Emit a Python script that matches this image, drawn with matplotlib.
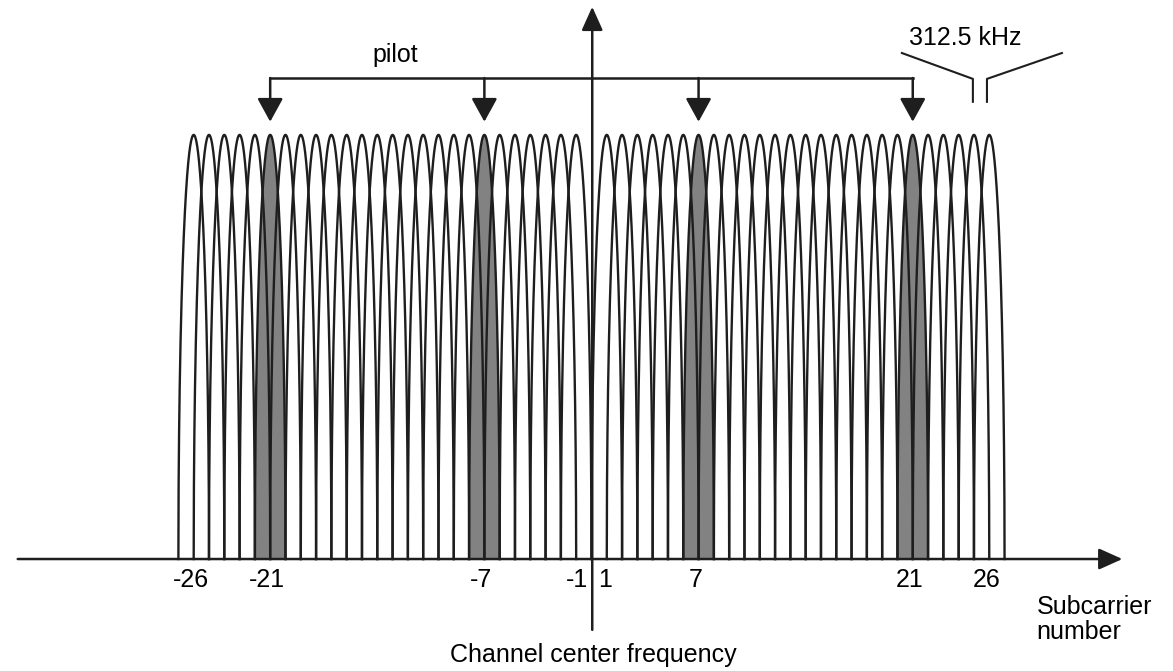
import numpy as np
import matplotlib
matplotlib.use("Agg")
import matplotlib.pyplot as plt

plt.rcParams['font.family'] = ['Liberation Sans', 'DejaVu Sans']

# subcarrier numbers (DC subcarrier 0 is not used)
subcarriers = list(range(-26, 0)) + list(range(1, 27))
pilots = [-21, -7, 7, 21]
tick_labels = [-26, -21, -7, -1, 1, 7, 21, 26]

fig = plt.figure(figsize=(11.73, 6.71), dpi=100)
ax = fig.add_axes([0, 0, 1, 1])
ax.set_xlim(-38.66, 38.01)
ax.set_ylim(-0.264, 1.318)
ax.axis('off')

u = np.linspace(-1, 1, 401)
arch = np.sqrt(1 - u ** 2)

# shaded pilot subcarriers
for k in pilots:
    ax.fill_between(k + u, 0, arch, color='#828282', lw=0, zorder=1)

# every subcarrier spectrum as an arch
for k in subcarriers:
    ax.plot(k + u, arch, color='#1e1e1e', lw=1.7, zorder=2)

# frequency axis and channel centre axis
ax.annotate('', xy=(34.7, 0), xytext=(-37.5, 0),
            arrowprops=dict(arrowstyle='-|>,head_length=0.4,head_width=0.18',
                            mutation_scale=36, lw=1.8, color='#1e1e1e',
                            shrinkA=0, shrinkB=0), zorder=3)
ax.annotate('', xy=(0.05, 1.302), xytext=(0.05, -0.167),
            arrowprops=dict(arrowstyle='-|>,head_length=0.4,head_width=0.18',
                            mutation_scale=36, lw=1.8, color='#1e1e1e',
                            shrinkA=0, shrinkB=0), zorder=3)

# tick labels
for t in tick_labels:
    if t == -1:
        ax.text(-0.23, -0.05, str(t), ha='right', va='center', fontsize=18)
    elif t == 1:
        ax.text(0.42, -0.05, str(t), ha='left', va='center', fontsize=18)
    else:
        ax.text(t - 0.2, -0.05, str(t), ha='center', va='center', fontsize=18)

ax.text(0.1, -0.226, 'Channel center frequency', ha='center', va='center', fontsize=18)
ax.text(29.1, -0.085, 'Subcarrier\nnumber', ha='left', va='top', fontsize=18,
        linespacing=1.05)

# pilot bracket
bracket_y = 1.134
ax.plot([pilots[0], pilots[-1]], [bracket_y, bracket_y], color='#1e1e1e', lw=1.8, zorder=2)
for k in pilots:
    ax.annotate('', xy=(k, 1.031), xytext=(k, bracket_y),
                arrowprops=dict(arrowstyle='-|>,head_length=0.4,head_width=0.22',
                                mutation_scale=36, lw=1.8, color='#1e1e1e',
                                shrinkA=0, shrinkB=0))
ax.text(-12.8, 1.189, 'pilot', ha='center', va='center', fontsize=18)

# subcarrier spacing marker
ax.plot([20.29, 24.93, 24.93], [1.193, 1.132, 1.078], color='#1e1e1e', lw=1.5)
ax.plot([25.85, 25.85, 30.75], [1.078, 1.132, 1.193], color='#1e1e1e', lw=1.5)
ax.text(24.4, 1.229, '312.5 kHz', ha='center', va='center', fontsize=18)

fig.savefig('out.png', dpi=100)
